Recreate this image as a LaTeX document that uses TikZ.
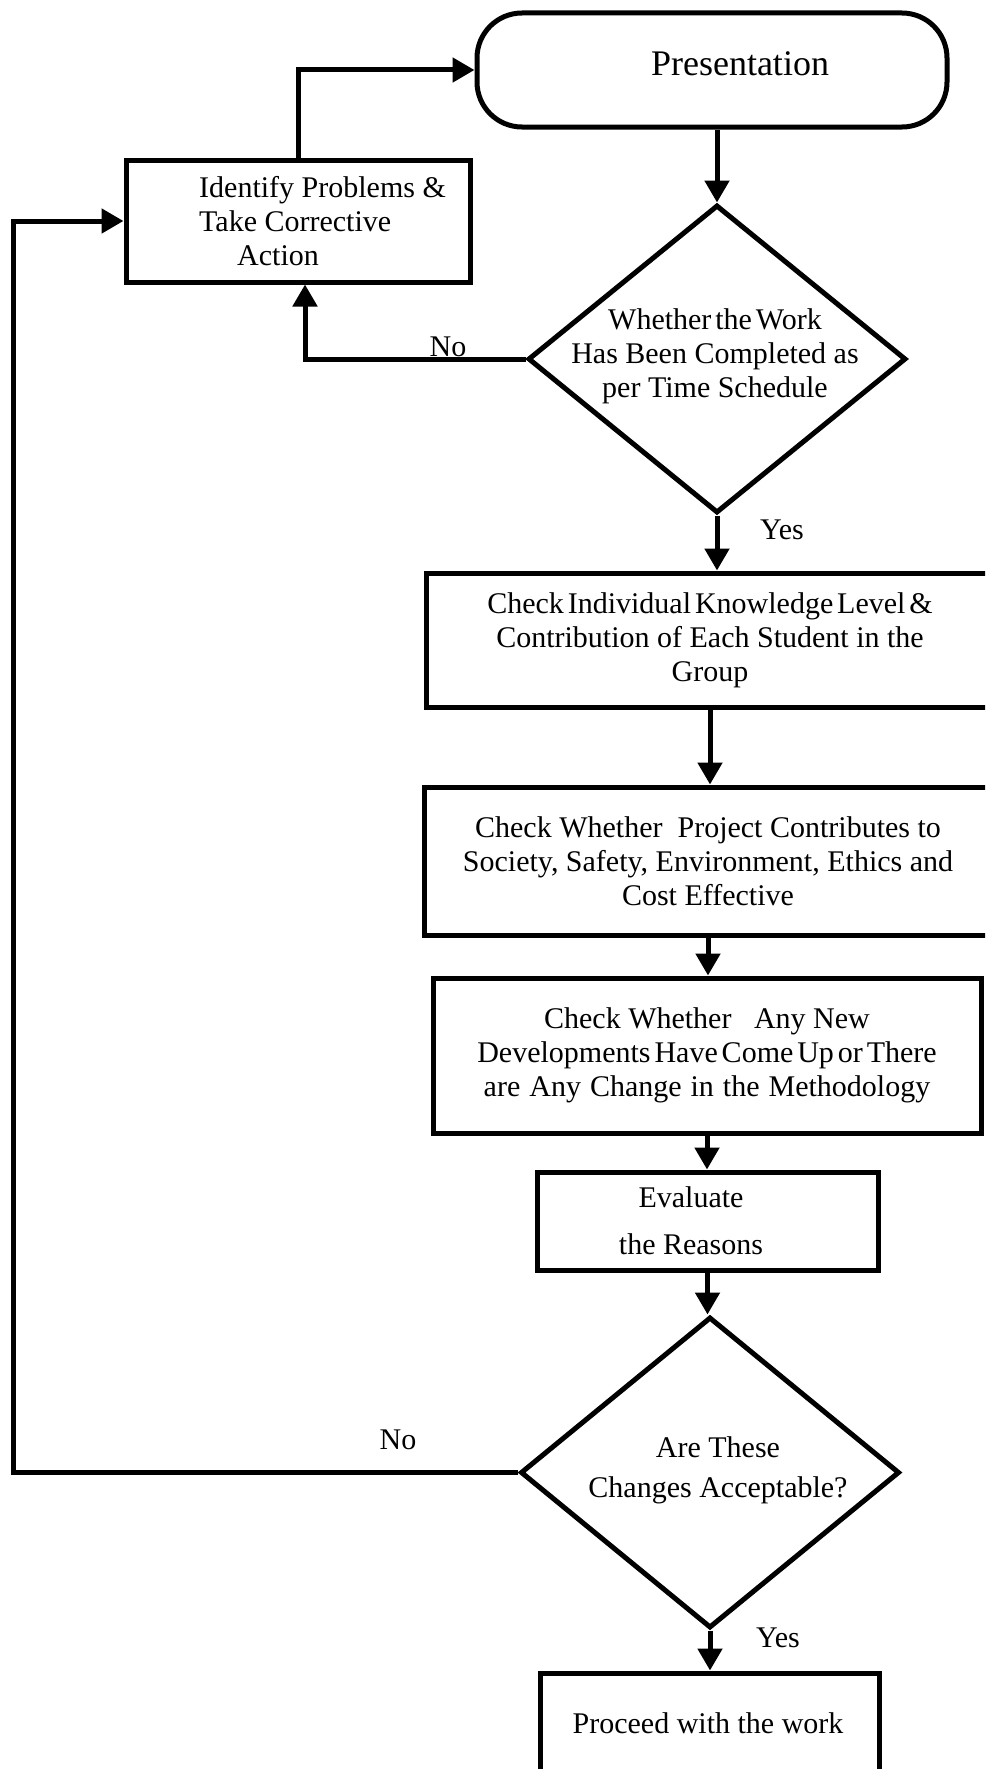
\documentclass[tikz,border=0pt]{standalone}
\usepackage{fontspec}
\setmainfont{Liberation Serif}
\usetikzlibrary{arrows.meta,shapes.geometric}
% lines whose words are set close together
\newcommand{\tightwords}[1]{{\spaceskip=0.13em\relax #1}}
\begin{document}
\begin{tikzpicture}[x=1pt,y=-1pt,
  every node/.style={font=\fontsize{30}{34}\selectfont, inner sep=0pt},
  box/.style={draw, line width=5pt, rectangle, align=center},
  decision/.style={draw, line width=5pt, diamond},
  flow/.style={line width=5pt, -{Triangle[length=22pt,width=24pt]}},
  tag/.style={font=\fontsize{30}{34}\selectfont}
]
\useasboundingbox (0,0) rectangle (985,1769);
\fill[white] (0,0) rectangle (985,1769);
\clip (0,0) rectangle (985,1769);

% start / end of the review
\node[box, rounded corners=45pt, minimum width=470pt, minimum height=114pt] (pres) at (712,70) {};
\node[font=\fontsize{36}{40}\selectfont] (presText) at (740,64) {Presentation};

% corrective action
\node[box, minimum width=344pt, minimum height=122pt] (ident) at (298,221) {};
\node[anchor=west, align=left] (identText) at (199,221)
  {Identify Problems \&\\Take Corrective\\\hspace*{38pt}Action};

% schedule check
\node[decision, minimum width=378pt, minimum height=308pt] (dia1) at (717,359) {};
\node[align=center] (dia1Text) at (715,356)
  {\tightwords{Whether the Work}\\Has Been Completed as\\per Time Schedule};

% checks
\node[box, minimum width=568pt, minimum height=134pt] (chk1) at (710,640)
  {\tightwords{Check Individual Knowledge Level \&}\\Contribution of Each Student in the\\Group};
\node[box, minimum width=568pt, minimum height=148pt] (chk2) at (708,861)
  {Check Whether\ \ Project Contributes to\\Society, Safety, Environment, Ethics and\\Cost Effective};
\node[box, minimum width=548pt, minimum height=155pt] (chk3) at (707,1055.5)
  {Check Whether\ \ \ Any New\\\tightwords{Developments Have Come Up or There}\\{\spaceskip=0.3em\relax are Any Change in the Methodology}};

% evaluation
\node[box, minimum width=341pt, minimum height=98pt] (eval) at (707.5,1221) {};
\node[align=center, font=\fontsize{30}{47}\selectfont] (evalText) at (691,1221) {Evaluate\\the Reasons};

% acceptance check
\node[decision, minimum width=379pt, minimum height=311pt] (dia2) at (710,1472.5) {};
\node[align=center, font=\fontsize{30}{40}\selectfont] (dia2Text) at (718,1470) {Are These\\Changes Acceptable?};

\node[box, minimum width=339pt, minimum height=104pt] (final) at (709.5,1725) {};
\node (finalText) at (708,1723) {Proceed with the work};

% branch labels
\node[tag] (no1) at (448,347) {No};
\node[tag] (yes1) at (782,530) {Yes};
\node[tag] (no2) at (398,1440) {No};
\node[tag] (yes2) at (778,1638) {Yes};

% main flow
\draw[flow] (pres.south -| dia1.north) -- (dia1.north);
\draw[flow] (dia1.south) -- (dia1.south |- chk1.north);
\draw[flow] (chk1.south) -- (chk1.south |- chk2.north);
\draw[flow] (chk2.south) -- (chk2.south |- chk3.north);
\draw[flow] (chk3.south) -- (chk3.south |- eval.north);
\draw[flow] (eval.south) -- (eval.south |- dia2.north);
\draw[flow] (dia2.south) -- (dia2.south |- final.north);

% feedback loops
\draw[flow] (dia1.west) -| ([xshift=7pt]ident.south);
\draw[flow] (ident.north) |- (pres.west);
\coordinate (loopCorner) at (13,1472.5);
\draw[flow] (dia2.west) -- (loopCorner) |- (ident.west);
\end{tikzpicture}
\end{document}
